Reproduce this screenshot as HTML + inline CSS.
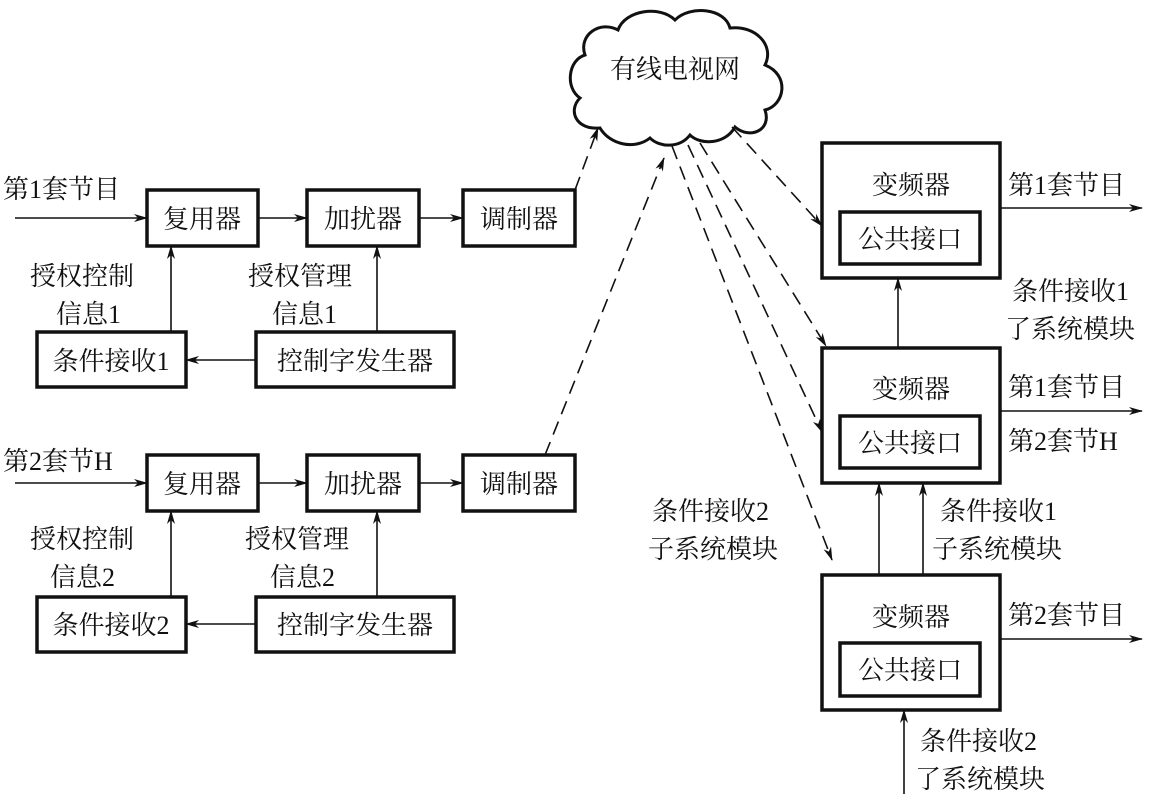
<!DOCTYPE html>
<html><head><meta charset="utf-8"><style>
html,body{margin:0;padding:0;background:#fff;}
svg text{font-family:"Liberation Serif","Noto Serif CJK SC","Noto Sans CJK SC",serif;font-size:26px;fill:#111;}
</style></head><body>
<svg width="1157" height="794" viewBox="0 0 1157 794" xmlns="http://www.w3.org/2000/svg">
<defs>
<marker id="a" markerWidth="14" markerHeight="8" refX="13" refY="4" orient="auto" markerUnits="userSpaceOnUse">
<path d="M0,0 L14,4 L0,8 L4,4 Z" fill="#111"/></marker>
</defs>
<g fill="none" stroke="#111">
<!-- top row -->
<rect x="147" y="190" width="111" height="56" stroke-width="3.5"/>
<rect x="307" y="190" width="112" height="56" stroke-width="3.5"/>
<rect x="463" y="190" width="112" height="56" stroke-width="3.5"/>
<rect x="37" y="332" width="149" height="55" stroke-width="3.5"/>
<rect x="256" y="332" width="198" height="55" stroke-width="3.5"/>
<!-- bottom row -->
<rect x="147" y="455" width="111" height="56" stroke-width="3.5"/>
<rect x="307" y="455" width="112" height="56" stroke-width="3.5"/>
<rect x="463" y="455" width="112" height="56" stroke-width="3.5"/>
<rect x="37" y="597" width="149" height="55" stroke-width="3.5"/>
<rect x="256" y="597" width="198" height="55" stroke-width="3.5"/>
<!-- right boxes -->
<rect x="822" y="143" width="178" height="135" stroke-width="3.5"/>
<rect x="840" y="212" width="140" height="52" stroke-width="3.5"/>
<rect x="822" y="348" width="178" height="135" stroke-width="3.5"/>
<rect x="840" y="416" width="140" height="52" stroke-width="3.5"/>
<rect x="822" y="575" width="178" height="135" stroke-width="3.5"/>
<rect x="840" y="643" width="140" height="53" stroke-width="3.5"/>
<!-- cloud -->
<path d="M600,128 C575,130 568,110 580,98 C565,88 568,60 585,55 C578,35 600,20 618,30 C625,10 660,5 675,20 C690,5 725,8 730,28 C755,25 775,45 765,65 C790,75 785,105 765,110 C772,130 750,140 735,127 C725,145 700,145 690,135 C680,148 660,148 650,138 C635,150 610,145 600,128 Z" stroke-width="3"/>
<g stroke-width="1.6" marker-end="url(#a)">
<!-- top row arrows -->
<line x1="15" y1="218" x2="147" y2="218"/>
<line x1="258" y1="218" x2="307" y2="218"/>
<line x1="419" y1="218" x2="463" y2="218"/>
<line x1="171" y1="332" x2="171" y2="246"/>
<line x1="377" y1="332" x2="377" y2="246"/>
<line x1="256" y1="360" x2="186" y2="360"/>
<!-- bottom row arrows -->
<line x1="15" y1="483" x2="147" y2="483"/>
<line x1="258" y1="483" x2="307" y2="483"/>
<line x1="419" y1="483" x2="463" y2="483"/>
<line x1="171" y1="597" x2="171" y2="511"/>
<line x1="377" y1="597" x2="377" y2="511"/>
<line x1="256" y1="624" x2="186" y2="624"/>
<!-- right -->
<line x1="1000" y1="208" x2="1142" y2="208"/>
<line x1="1000" y1="411" x2="1142" y2="411"/>
<line x1="1000" y1="639" x2="1142" y2="639"/>
<line x1="898" y1="348" x2="898" y2="278"/>
<line x1="879" y1="575" x2="879" y2="483"/>
<line x1="923" y1="575" x2="923" y2="483"/>
<line x1="904" y1="794" x2="904" y2="710"/>
</g>
<g stroke-width="1.6" stroke-dasharray="14,8" marker-end="url(#a)">
<line x1="575" y1="190" x2="598" y2="128"/>
<line x1="545" y1="455" x2="664" y2="158"/>
<line x1="732" y1="127" x2="822" y2="226"/>
<line x1="700" y1="143" x2="826" y2="346"/>
<line x1="688" y1="145" x2="822" y2="432"/>
<line x1="672" y1="146" x2="832" y2="560"/>
</g>
</g>
<text x="3" y="198">第1套节目</text>
<text x="202" y="228" text-anchor="middle">复用器</text>
<text x="363" y="228" text-anchor="middle">加扰器</text>
<text x="519" y="228" text-anchor="middle">调制器</text>
<text x="30" y="285">授权控制</text>
<text x="56" y="323">信息1</text>
<text x="248" y="285">授权管理</text>
<text x="272" y="323">信息1</text>
<text x="111" y="370" text-anchor="middle">条件接收1</text>
<text x="355" y="370" text-anchor="middle">控制字发生器</text>

<text x="3" y="470">第2套节H</text>
<text x="202" y="493" text-anchor="middle">复用器</text>
<text x="363" y="493" text-anchor="middle">加扰器</text>
<text x="519" y="493" text-anchor="middle">调制器</text>
<text x="30" y="548">授权控制</text>
<text x="50" y="586">信息2</text>
<text x="245" y="548">授权管理</text>
<text x="270" y="586">信息2</text>
<text x="111" y="634" text-anchor="middle">条件接收2</text>
<text x="355" y="634" text-anchor="middle">控制字发生器</text>

<text x="675" y="78" text-anchor="middle">有线电视网</text>

<text x="911" y="194" text-anchor="middle">变频器</text>
<text x="910" y="248" text-anchor="middle">公共接口</text>
<text x="1008" y="194">第1套节目</text>
<text x="1012" y="300">条件接收1</text>
<text x="1005" y="338">了系统模块</text>
<text x="911" y="398" text-anchor="middle">变频器</text>
<text x="910" y="452" text-anchor="middle">公共接口</text>
<text x="1008" y="396">第1套节目</text>
<text x="1008" y="450">第2套节H</text>
<text x="652" y="520">条件接收2</text>
<text x="648" y="558">子系统模块</text>
<text x="940" y="520">条件接收1</text>
<text x="932" y="558">子系统模块</text>
<text x="911" y="626" text-anchor="middle">变频器</text>
<text x="910" y="679" text-anchor="middle">公共接口</text>
<text x="1008" y="624">第2套节目</text>
<text x="920" y="750">条件接收2</text>
<text x="915" y="788">了系统模块</text>
</svg>
</body></html>
